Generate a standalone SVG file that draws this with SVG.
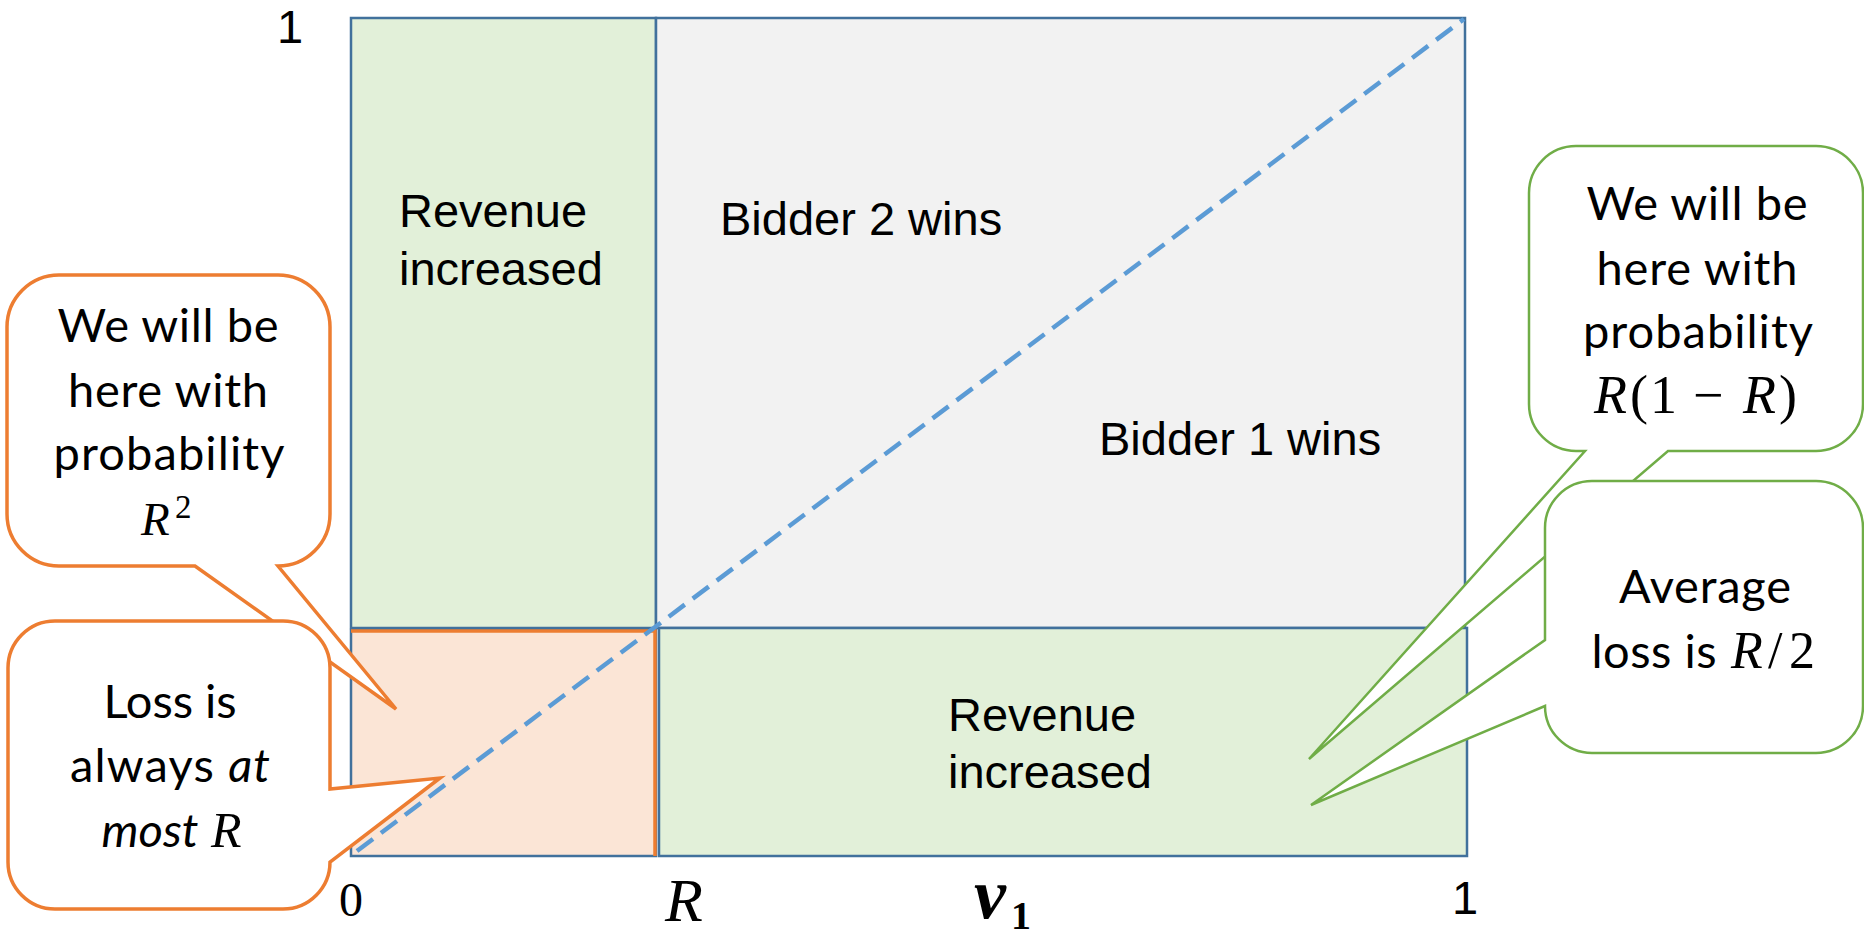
<svg xmlns="http://www.w3.org/2000/svg" width="1864" height="936" viewBox="0 0 1864 936">
<style>
.ar{font-family:"Liberation Sans",Arial,sans-serif;font-size:47px;fill:#000}
.cb{font-family:Lato,"Noto Sans",sans-serif;font-size:47px;fill:#000;text-anchor:middle}
.it{font-style:italic}
.mi{font-family:"Liberation Serif","DejaVu Serif",serif;font-style:italic;fill:#000}
.mr{font-family:"Liberation Serif","DejaVu Serif",serif;fill:#000}
.cell{stroke:#41719C;stroke-width:2.5}
.co{fill:#fff;stroke:#ED7D31;stroke-width:3.5;stroke-linejoin:miter}
.cg{fill:#fff;stroke:#70AD47;stroke-width:2.5;stroke-linejoin:miter}
</style>
<rect width="1864" height="936" fill="#fff"/>
<g id="regions">
  <rect id="rev-top" class="cell" x="351" y="18" width="305" height="610" fill="#E2F0D9"/>
  <rect id="bidder-area" class="cell" x="656" y="18" width="809" height="610" fill="#F2F2F2"/>
  <rect id="loss-area" class="cell" x="351" y="630" width="305" height="226" fill="#FBE5D6"/>
  <path d="M351 631 H655 V856" fill="none" stroke="#ED7D31" stroke-width="3.5"/>
  <rect id="rev-bottom" class="cell" x="659" y="628" width="808" height="228" fill="#E2F0D9"/>
</g>
<g id="connectors">
  <line x1="357" y1="851" x2="1464" y2="19" stroke="#5B9BD5" stroke-width="4.5" stroke-dasharray="20 10"/>
</g>
<g id="labels">
  <text class="ar" x="399" y="227">Revenue</text>
  <text class="ar" x="399" y="285">increased</text>
  <text class="ar" x="720" y="235">Bidder 2 wins</text>
  <text class="ar" x="1099" y="455">Bidder 1 wins</text>
  <text class="ar" x="948" y="731">Revenue</text>
  <text class="ar" x="948" y="788">increased</text>
  <text class="ar" x="290" y="43" font-size="43" text-anchor="middle">1</text>
  <text class="ar" x="1465" y="914" font-size="43" text-anchor="middle">1</text>
  <text class="mr" x="351" y="916" font-size="48" text-anchor="middle">0</text>
  <text class="mi" x="684" y="921" font-size="62" text-anchor="middle">R</text>
  <text class="mi" x="974" y="918" font-size="72" font-weight="bold">v</text>
  <text class="mr" x="1011" y="929" font-size="40" font-weight="bold">1</text>
</g>
<g id="callout-r2">
  <path class="co" d="M59 275 H278 A52 52 0 0 1 330 327 V514 A52 52 0 0 1 278 566 L396 709 L195 566 H59 A52 52 0 0 1 7 514 V327 A52 52 0 0 1 59 275 Z"/>
  <text class="cb" x="168" y="342" textLength="221">We will be</text>
  <text class="cb" x="168" y="407" textLength="200">here with</text>
  <text class="cb" x="169" y="470" textLength="231">probability</text>
  <text class="mi" x="141" y="535" font-size="47">R</text>
  <text class="mr" x="175" y="518" font-size="33">2</text>
</g>
<g id="callout-loss">
  <path class="co" d="M55 621 H283 A47 47 0 0 1 330 668 V789 L440 778 L330 862 A47 47 0 0 1 283 909 H55 A47 47 0 0 1 8 862 V668 A47 47 0 0 1 55 621 Z"/>
  <text class="cb" x="170" y="718" textLength="133">Loss is</text>
  <text class="cb" x="170" y="782" textLength="200">always <tspan class="it">at</tspan></text>
  <text class="cb it" x="150" y="847">most</text>
  <text class="mi" x="211" y="847" font-size="50">R</text>
</g>
<g id="callout-r1r">
  <path class="cg" d="M1576 146 H1816 A47 47 0 0 1 1863 193 V404 A47 47 0 0 1 1816 451 H1668 L1309 759 L1585 451 H1576 A47 47 0 0 1 1529 404 V193 A47 47 0 0 1 1576 146 Z"/>
  <text class="cb" x="1697" y="220" textLength="221">We will be</text>
  <text class="cb" x="1697" y="285" textLength="201">here with</text>
  <text class="cb" x="1698" y="348" textLength="230">probability</text>
  <text class="mi" x="1594" y="413" font-size="54">R</text>
  <text class="mr" x="1630" y="413" font-size="54">(</text>
  <text class="mr" x="1650" y="413" font-size="54">1</text>
  <text class="mr" x="1693" y="413" font-size="54">−</text>
  <text class="mi" x="1743" y="413" font-size="54">R</text>
  <text class="mr" x="1779" y="413" font-size="54">)</text>
</g>
<g id="callout-avg">
  <path class="cg" d="M1592 481 H1816 A47 47 0 0 1 1863 528 V706 A47 47 0 0 1 1816 753 H1592 A47 47 0 0 1 1545 706 L1311 805 L1545 640 V528 A47 47 0 0 1 1592 481 Z"/>
  <text class="cb" x="1705" y="603" textLength="172">Average</text>
  <text class="cb" x="1654" y="668" textLength="125">loss is</text>
  <text class="mi" x="1731" y="668" font-size="52">R</text>
  <text class="mr" x="1768" y="668" font-size="52">/</text>
  <text class="mr" x="1789" y="668" font-size="52">2</text>
</g>
</svg>
